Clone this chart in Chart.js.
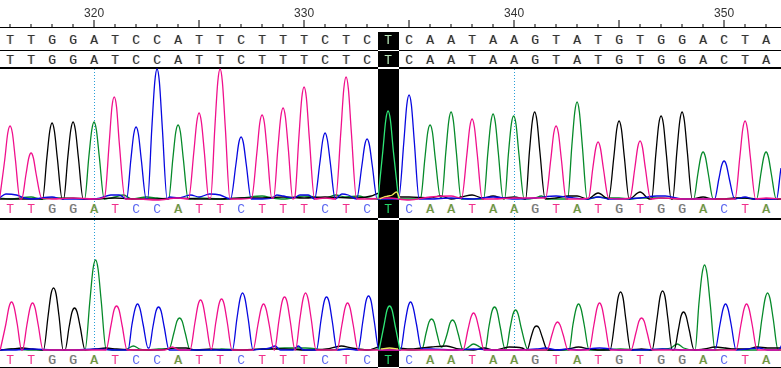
<!DOCTYPE html>
<html lang="en">
<head>
  <meta charset="UTF-8">
  <title>Sequence traces</title>
  <script src="https://cdn.jsdelivr.net/npm/chart.js"></script>
  <style>
    html, body { margin: 0; background: #fff; overflow: hidden; }
    canvas { display: block; }
  </style>
</head>
<body>
  <canvas id="traces" width="781" height="368"></canvas>

  <script>
    const firstBase = 316;
    const bases = ['T','T','G','G','A','T','C','C','A','T','T','C','T','T','T','C','T','C','T','C','A','A','T','A','A','G','T','A','T','G','T','G','G','A','C','T','A'];
    const numberedPositions = [320, 330, 340, 350];
    const guidePositions = [320, 340];
    const selectedPosition = 334;

    // each point is [base position, signal]
    const topPink = [[315.5,1],[315.75,41],[315.89,67],[316,74],[316.11,67],[316.25,41],[316.47,1],[316.55,1],[316.76,26],[316.89,42],[317,47],[317.11,42],[317.24,26],[317.5,2],[318,1],[319,2],[320,1],[320.5,3],[320.72,57],[320.85,93],[320.96,103],[321.07,93],[321.2,57],[321.48,1],[322,1],[323,0],[324,2],[324.5,1],[324.75,48],[324.89,78],[325,87],[325.11,78],[325.25,48],[325.46,2],[325.55,2],[325.75,72],[325.89,118],[326,131],[326.11,118],[326.25,72],[326.47,1],[327,1],[327.5,2],[327.75,47],[327.89,77],[328,85],[328.11,77],[328.25,47],[328.46,2],[328.55,2],[328.75,51],[328.89,83],[329,92],[329.11,83],[329.25,51],[329.46,1],[329.55,2],[329.75,62],[329.89,102],[330,113],[330.11,102],[330.25,62],[330.5,1],[331,2],[331.5,1],[331.75,68],[331.89,111],[332,123],[332.11,111],[332.25,68],[332.5,1],[333,1],[334,2],[335,0],[336,3],[337,4],[337.5,2],[337.75,45],[337.89,73],[338,81],[338.11,73],[338.25,45],[338.48,1],[339,1],[340,2],[341,2],[341.5,2],[341.75,41],[341.89,67],[342,74],[342.11,67],[342.25,41],[342.48,1],[343,1],[343.55,2],[343.75,32],[343.89,52],[344,58],[344.11,52],[344.25,32],[344.5,2],[345,1],[345.52,2],[345.75,32],[345.89,53],[346,59],[346.11,53],[346.25,32],[346.5,1],[347,2],[348,1],[349,1],[350,1],[350.52,1],[350.75,43],[350.89,71],[351,79],[351.11,71],[351.25,43],[351.5,1],[352,2],[352.71,1]];
    const topBlue = [[315.5,2],[315.8,6],[316.3,5],[316.7,2],[317,1],[318,3],[318.5,1],[319,1],[320,1],[320.3,2],[320.8,5],[321.2,5],[321.55,1],[321.75,40],[321.89,66],[322,73],[322.11,66],[322.25,40],[322.48,1],[322.55,1],[322.75,72],[322.89,118],[323,131],[323.11,118],[323.25,72],[323.48,1],[323.6,3],[324,2],[324.6,5],[325,3],[325.5,6],[326,5],[326.5,1],[326.75,35],[326.89,57],[327,63],[327.11,57],[327.25,35],[327.48,1],[328,1],[328.5,2],[328.7,5],[329,4],[329.5,2],[329.8,5],[330.2,5],[330.5,1],[330.75,37],[330.89,60],[331,67],[331.11,60],[331.25,37],[331.48,1],[331.8,6],[332.1,5],[332.5,1],[332.75,34],[332.89,55],[333,61],[333.11,55],[333.25,34],[333.48,1],[334,1],[334.5,1],[334.75,58],[334.89,95],[335,105],[335.11,95],[335.25,58],[335.48,1],[336,1],[337,2],[338,1],[339,3],[340,1],[341,2],[342,4],[342.5,3],[343.5,1],[344,3],[344.5,1],[345,1],[346,2],[346.8,4],[347.2,4],[348,1],[349,1],[349.55,1],[349.75,21],[349.89,35],[350,39],[350.11,35],[350.25,21],[350.5,1],[351,3],[351.4,1],[352,1],[352.5,1],[352.71,32],[353,55]];
    const topGreen = [[315.5,2],[316,1],[317,3],[317.5,1],[318,2],[319,2],[319.55,1],[319.75,43],[319.89,70],[320,78],[320.11,70],[320.25,43],[320.48,1],[321,3],[321.4,5],[321.8,1],[322.5,3],[323,2],[323.55,1],[323.75,41],[323.89,68],[324,75],[324.11,68],[324.25,41],[324.48,1],[325,2],[326,1],[327,2],[328,4],[328.5,2],[329,1],[330,4],[331,2],[331.5,5],[332,3],[332.6,4],[333,2],[333.5,1],[334,1],[335.3,1],[335.55,2],[335.75,41],[335.89,68],[336,75],[336.11,68],[336.25,41],[336.5,2],[336.55,2],[336.75,48],[336.89,79],[337,88],[337.11,79],[337.25,48],[337.48,1],[338,1],[338.55,1],[338.75,47],[338.89,77],[339,86],[339.11,77],[339.25,47],[339.48,1],[339.55,1],[339.73,46],[339.87,76],[339.98,84],[340.09,76],[340.23,46],[340.48,1],[341,2],[341.3,4],[341.6,1],[342,1],[342.55,1],[342.75,54],[342.89,88],[343,98],[343.11,88],[343.25,54],[343.48,1],[344,3],[344.5,2],[345,2],[345.5,1],[346,2],[347,2],[348,1],[348.55,1],[348.75,26],[348.89,43],[349,48],[349.11,43],[349.25,26],[349.48,1],[350,1],[351,2],[351.55,1],[351.75,26],[351.89,43],[352,48],[352.11,43],[352.25,26],[352.48,1],[352.71,1]];
    const topBlack = [[315.5,1],[316,1],[317,1],[317.55,1],[317.75,42],[317.89,69],[318,77],[318.11,69],[318.25,42],[318.48,1],[318.55,1],[318.75,43],[318.89,70],[319,78],[319.11,70],[319.25,43],[319.48,1],[320,1],[321,2],[322,1],[323,1],[324,2],[325,1],[326,1],[327,2],[328,2],[329,3],[330,2],[331,3],[332.5,2],[333.2,4],[333.6,7],[333.9,7],[334.6,3],[335,3],[336,2],[336.5,4],[337,1],[337.5,3],[338,5],[338.5,2],[339,4],[339.5,2],[340,3],[340.55,1],[340.73,48],[340.87,79],[340.98,88],[341.09,79],[341.23,48],[341.48,1],[342,2],[342.6,4],[343,4],[343.5,1],[344,7],[344.5,1],[344.75,43],[344.89,71],[345,79],[345.11,71],[345.25,43],[345.48,1],[346,8],[346.45,1],[346.55,1],[346.75,46],[346.89,76],[347,84],[347.11,76],[347.25,46],[347.48,1],[347.55,1],[347.75,48],[347.89,79],[348,88],[348.11,79],[348.25,48],[348.48,1],[349,3],[349.5,1],[350,1],[350.5,2],[351,2],[351.5,1],[352,1],[352.71,1]];
    const topSelected = [[333.52,1],[333.75,49],[333.89,80],[334,89],[334.11,80],[334.25,49],[334.5,1]];
    const topYellow = [[333.6,1],[333.8,3],[334,4],[334.2,5],[334.4,8],[334.55,2]];

    const bottomPink = [[315.46,1],[315.73,27],[315.88,44],[316,49],[316.12,44],[316.27,27],[316.48,1],[316.52,1],[316.73,26],[316.88,43],[317,48],[317.12,43],[317.27,26],[317.5,1],[318,1],[319,1],[320,1],[320.5,1],[320.73,25],[320.88,41],[321,45],[321.12,41],[321.27,25],[321.5,1],[322,1],[323,1],[323.3,1],[323.65,4],[324,1],[324.5,1],[324.73,28],[324.88,46],[325,51],[325.12,46],[325.27,28],[325.5,2],[325.52,2],[325.73,29],[325.88,47],[326,52],[326.12,47],[326.27,29],[326.5,1],[327,1],[327.5,1],[327.73,26],[327.88,42],[328,47],[328.12,42],[328.27,26],[328.5,1],[328.52,1],[328.73,30],[328.88,49],[329,54],[329.12,49],[329.27,30],[329.5,1],[329.52,1],[329.73,32],[329.88,52],[330,58],[330.12,52],[330.27,32],[330.5,1],[331,1],[331.5,1],[331.73,26],[331.88,43],[332,48],[332.12,43],[332.27,26],[332.5,1],[333,1],[334,1],[335,1],[336,1],[337,1],[337.5,1],[337.73,21],[337.88,34],[338,38],[338.12,34],[338.27,21],[338.5,1],[339,1],[340,1],[341,1],[341.5,1],[341.73,16],[341.88,26],[342,29],[342.12,26],[342.27,16],[342.5,1],[343,1],[343.5,1],[343.73,26],[343.88,43],[344,48],[344.12,43],[344.27,26],[344.5,1],[345,1],[345.5,1],[345.73,18],[345.88,30],[346,33],[346.12,30],[346.27,18],[346.5,1],[347,1],[348,1],[349,1],[350,1],[350.5,1],[350.73,26],[350.88,42],[351,47],[351.12,42],[351.27,26],[351.5,1],[352,1],[352.71,1]];
    const bottomBlue = [[315.45,1],[316,1],[317,2],[318,1],[319,1],[320,2],[321,1],[321.55,1],[321.73,26],[321.88,42],[322,47],[322.12,42],[322.27,26],[322.5,3],[322.55,3],[322.73,24],[322.88,40],[323,44],[323.12,40],[323.27,24],[323.5,1],[324,1],[325,1],[326,1],[326.52,1],[326.73,32],[326.88,52],[327,58],[327.12,52],[327.27,32],[327.5,1],[328,2],[328.3,3],[328.55,5],[328.8,1],[329.4,1],[329.65,5],[329.9,1],[330.52,1],[330.73,30],[330.88,49],[331,54],[331.12,49],[331.27,30],[331.5,1],[332,2],[332.5,1],[332.73,30],[332.88,50],[333,55],[333.12,50],[333.27,30],[333.5,1],[334,1],[334.52,1],[334.73,27],[334.88,44],[335,49],[335.12,44],[335.28,27],[335.52,2],[336,2],[337,1],[338,2],[339,1],[340,1],[341,2],[341.4,3],[342,1],[342.5,2],[343,1],[344,3],[345,1],[346,1],[347,2],[348,1],[349,1],[349.5,1],[349.73,26],[349.88,42],[350,47],[350.12,42],[350.27,26],[350.5,1],[351,2],[351.6,3],[352,1],[352.5,1],[352.71,8],[352.9,25]];
    const bottomGreen = [[315.45,1],[316,2],[317,1],[318,1],[319,1],[319.5,1],[319.73,50],[319.88,82],[320,91],[320.12,82],[320.27,50],[320.5,2],[321,1],[321.5,2],[321.8,5],[322.1,2],[322.5,1],[323,2],[323.5,2],[323.73,18],[323.88,30],[324,33],[324.12,30],[324.27,18],[324.5,1],[325,1],[325.5,1],[326,2],[327,1],[328,2],[329,3],[330,3],[331,1],[332,2],[333,1],[333.5,2],[334.5,2],[335,1],[335.55,2],[335.74,18],[335.88,29],[336,32],[336.12,29],[336.25,18],[336.45,4],[336.5,4],[336.74,17],[336.88,28],[337,31],[337.12,28],[337.27,17],[337.5,1],[337.7,3],[338,7],[338.3,4],[338.55,1],[338.73,24],[338.88,40],[339,44],[339.12,40],[339.27,24],[339.5,2],[339.55,2],[339.74,23],[339.88,37],[340,41],[340.12,37],[340.27,23],[340.6,1],[341,1],[342,1],[342.55,1],[342.73,26],[342.88,42],[343,47],[343.12,42],[343.27,26],[343.5,1],[344,1],[345,2],[346,1],[347,2],[347.4,3],[347.7,7],[348,3],[348.55,1],[348.73,47],[348.88,77],[349,86],[349.12,77],[349.27,47],[349.5,1],[350,2],[351,1],[351.5,1],[351.73,32],[351.88,52],[352,58],[352.12,52],[352.27,32],[352.5,1],[352.71,1]];
    const bottomBlack = [[315.45,1],[316,2],[316.5,3],[317,2],[317.52,1],[317.74,35],[317.88,57],[318,63],[318.12,57],[318.26,35],[318.46,1],[318.55,1],[318.74,24],[318.88,39],[319,43],[319.12,39],[319.27,24],[319.5,1],[320,2],[320.5,3],[321,2],[322,1],[323,1],[323.8,3],[324.3,3],[324.8,1],[325.5,2],[326,1],[327,1],[328,2],[329,2],[330,1],[331,2],[331.7,5],[332.2,3],[333,1],[333.5,4],[334.4,3],[335,2],[335.5,3],[336,4],[336.7,5],[337.3,2],[338,1],[338.5,3],[339,1],[339.7,4],[340.3,3],[340.55,1],[340.74,14],[340.88,23],[341,25],[341.12,23],[341.27,14],[341.52,1],[342,1],[342.5,2],[343,4],[343.5,2],[344,1],[344.5,1],[344.74,32],[344.88,53],[345,59],[345.12,53],[345.25,32],[345.48,1],[346,2],[346.5,1],[346.74,33],[346.88,54],[347,60],[347.12,54],[347.25,33],[347.46,1],[347.55,1],[347.75,21],[347.88,35],[348,39],[348.12,35],[348.27,21],[348.5,1],[349,2],[349.5,4],[350,3],[350.4,2],[351,2],[351.5,4],[352,3],[352.71,3]];
    const bottomSelected = [[333.5,1],[333.73,25],[333.88,41],[334,45],[334.12,41],[334.27,25],[334.5,1]];
    const bottomYellow = [[333.6,2],[334,3],[334.4,2]];

    const pink = '#f0108c';
    const blue = '#0808e0';
    const green = '#068a2a';
    const black = '#000000';
    const lime = '#2ee676';
    const yellow = '#f2e85a';

    function trace(points, color, xAxisID, yAxisID) {
      return {
        data: points.map(p => ({ x: p[0], y: p[1] })),
        borderColor: color,
        borderWidth: 1.3,
        pointRadius: 0,
        cubicInterpolationMode: 'monotone',
        fill: false,
        xAxisID: xAxisID,
        yAxisID: yAxisID
      };
    }

    function hLine(ctx, y, height) {
      ctx.fillStyle = '#000';
      ctx.fillRect(0, y, 781, height);
    }

    function drawLetter(ctx, letter, x, y, color, fringe) {
      if (fringe) {
        ctx.fillStyle = 'rgba(240,150,50,0.45)';
        ctx.fillText(letter, x - 0.7, y);
        ctx.fillStyle = 'rgba(60,140,240,0.45)';
        ctx.fillText(letter, x + 0.7, y);
      }
      ctx.fillStyle = color;
      ctx.fillText(letter, x, y);
    }

    const labelColors = { T: '#f0308c', C: '#5a66f0', A: '#6f9a3c', G: '#777777' };

    const sequencePlugin = {
      id: 'sequence',
      beforeDatasetsDraw(chart) {
        const ctx = chart.ctx;
        const x = chart.scales.x;
        const colLeft = Math.round(x.getPixelForValue(selectedPosition - 0.5));
        const colRight = Math.round(x.getPixelForValue(selectedPosition + 0.5));
        ctx.save();

        // ruler
        hLine(ctx, 27, 1);
        hLine(ctx, 50, 1);
        hLine(ctx, 67, 2);
        hLine(ctx, 218, 2);
        hLine(ctx, 367, 1);
        ctx.fillStyle = '#000';
        bases.forEach((b, i) => {
          const pos = firstBase + i;
          const px = Math.round(x.getPixelForValue(pos)) - 0.5;
          const len = pos % 5 === 0 ? 7 : 3;
          ctx.fillRect(px, 27 - len, 1, len);
        });
        ctx.font = '12px "Liberation Sans"';
        ctx.textAlign = 'center';
        ctx.textBaseline = 'middle';
        ctx.fillStyle = '#333';
        numberedPositions.forEach(pos => {
          ctx.fillText(String(pos), x.getPixelForValue(pos), 14);
        });

        // selected column
        ctx.fillStyle = '#000';
        ctx.fillRect(colLeft, 32, colRight - colLeft, 336);
        ctx.fillStyle = '#fff';
        ctx.fillRect(colLeft, 50, colRight - colLeft, 1);
        ctx.fillRect(colLeft, 67, colRight - colLeft, 2);
        ctx.fillRect(colLeft, 218, colRight - colLeft, 2);
        ctx.fillRect(colLeft, 367, colRight - colLeft, 1);

        // dotted guides
        ctx.strokeStyle = '#2a9fd8';
        ctx.lineWidth = 1;
        ctx.setLineDash([1, 2]);
        guidePositions.forEach(pos => {
          const px = Math.round(x.getPixelForValue(pos)) + 0.5;
          ctx.beginPath();
          ctx.moveTo(px, 69);
          ctx.lineTo(px, 218);
          ctx.moveTo(px, 220);
          ctx.lineTo(px, 352);
          ctx.stroke();
        });
        ctx.setLineDash([]);

        // base calls
        ctx.font = '13px "Liberation Mono"';
        bases.forEach((b, i) => {
          const pos = firstBase + i;
          const px = x.getPixelForValue(pos);
          const selected = pos === selectedPosition;
          const rowColor = selected ? '#b8e8b8' : '#333';
          drawLetter(ctx, b, px, 41, rowColor, !selected);
          drawLetter(ctx, b, px, 61, rowColor, !selected);
          const labelColor = selected ? '#22d868' : labelColors[b];
          const fringe = !selected && (b === 'G' || b === 'A');
          drawLetter(ctx, b, px, 210, labelColor, fringe);
          drawLetter(ctx, b, px, 361, labelColor, fringe);
        });
        ctx.restore();
      }
    };

    new Chart(document.getElementById('traces'), {
      type: 'line',
      data: {
        datasets: [
          trace(topYellow, yellow, 'x', 'yTop'),
          trace(topSelected, lime, 'x', 'yTop'),
          trace(topPink, pink, 'x', 'yTop'),
          trace(topBlue, blue, 'x', 'yTop'),
          trace(topBlack, black, 'x', 'yTop'),
          trace(topGreen, green, 'x', 'yTop'),
          trace(bottomYellow, yellow, 'xBottom', 'yBottom'),
          trace(bottomSelected, lime, 'xBottom', 'yBottom'),
          trace(bottomPink, pink, 'xBottom', 'yBottom'),
          trace(bottomBlue, blue, 'xBottom', 'yBottom'),
          trace(bottomBlack, black, 'xBottom', 'yBottom'),
          trace(bottomGreen, green, 'xBottom', 'yBottom')
        ]
      },
      options: {
        responsive: false,
        animation: false,
        parsing: false,
        layout: { padding: 0 },
        plugins: { legend: { display: false }, tooltip: { enabled: false } },
        scales: {
          x: { type: 'linear', min: 315.52, max: 352.71, display: false },
          xBottom: { type: 'linear', min: 315.45, max: 352.64, display: false },
          yTop: { type: 'linear', min: -168, max: 200, display: false },
          yBottom: { type: 'linear', min: -17, max: 351, display: false }
        }
      },
      plugins: [sequencePlugin]
    });
  </script>
</body>
</html>
